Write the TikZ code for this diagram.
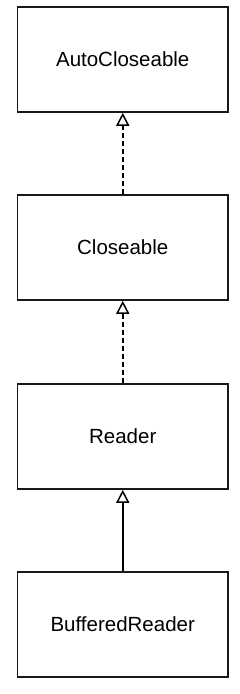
\documentclass[tikz,border=0pt]{standalone}
\usepackage{fontspec}
\setmainfont{Liberation Sans}
\usetikzlibrary{arrows.meta}
\begin{document}
\begin{tikzpicture}[x=1pt,y=-1pt,
  cls/.style={draw=black!90, line width=1.6pt, minimum width=210.5pt, minimum height=105pt, inner sep=0pt, font=\fontsize{20.5}{24}\selectfont, fill=white},
  realize/.style={line width=1.6pt, dash pattern=on 5pt off 3pt, -{Triangle[open,width=13pt,length=13pt,line width=1.5pt]}},
  extend/.style={line width=1.6pt, -{Triangle[open,width=13pt,length=13pt,line width=1.5pt]}}]
\useasboundingbox (0,0) rectangle (240,694);
\node[cls] (ac) at (122.75,59.5) {AutoCloseable};
\node[cls] (cl) at (122.75,247.5) {Closeable};
\node[cls] (rd) at (122.75,436.5) {Reader};
\node[cls] (br) at (122.75,624.5) {BufferedReader};
\draw[realize] (cl) -- (ac);
\draw[realize] (rd) -- (cl);
\draw[extend] (br) -- (rd);
\end{tikzpicture}
\end{document}
